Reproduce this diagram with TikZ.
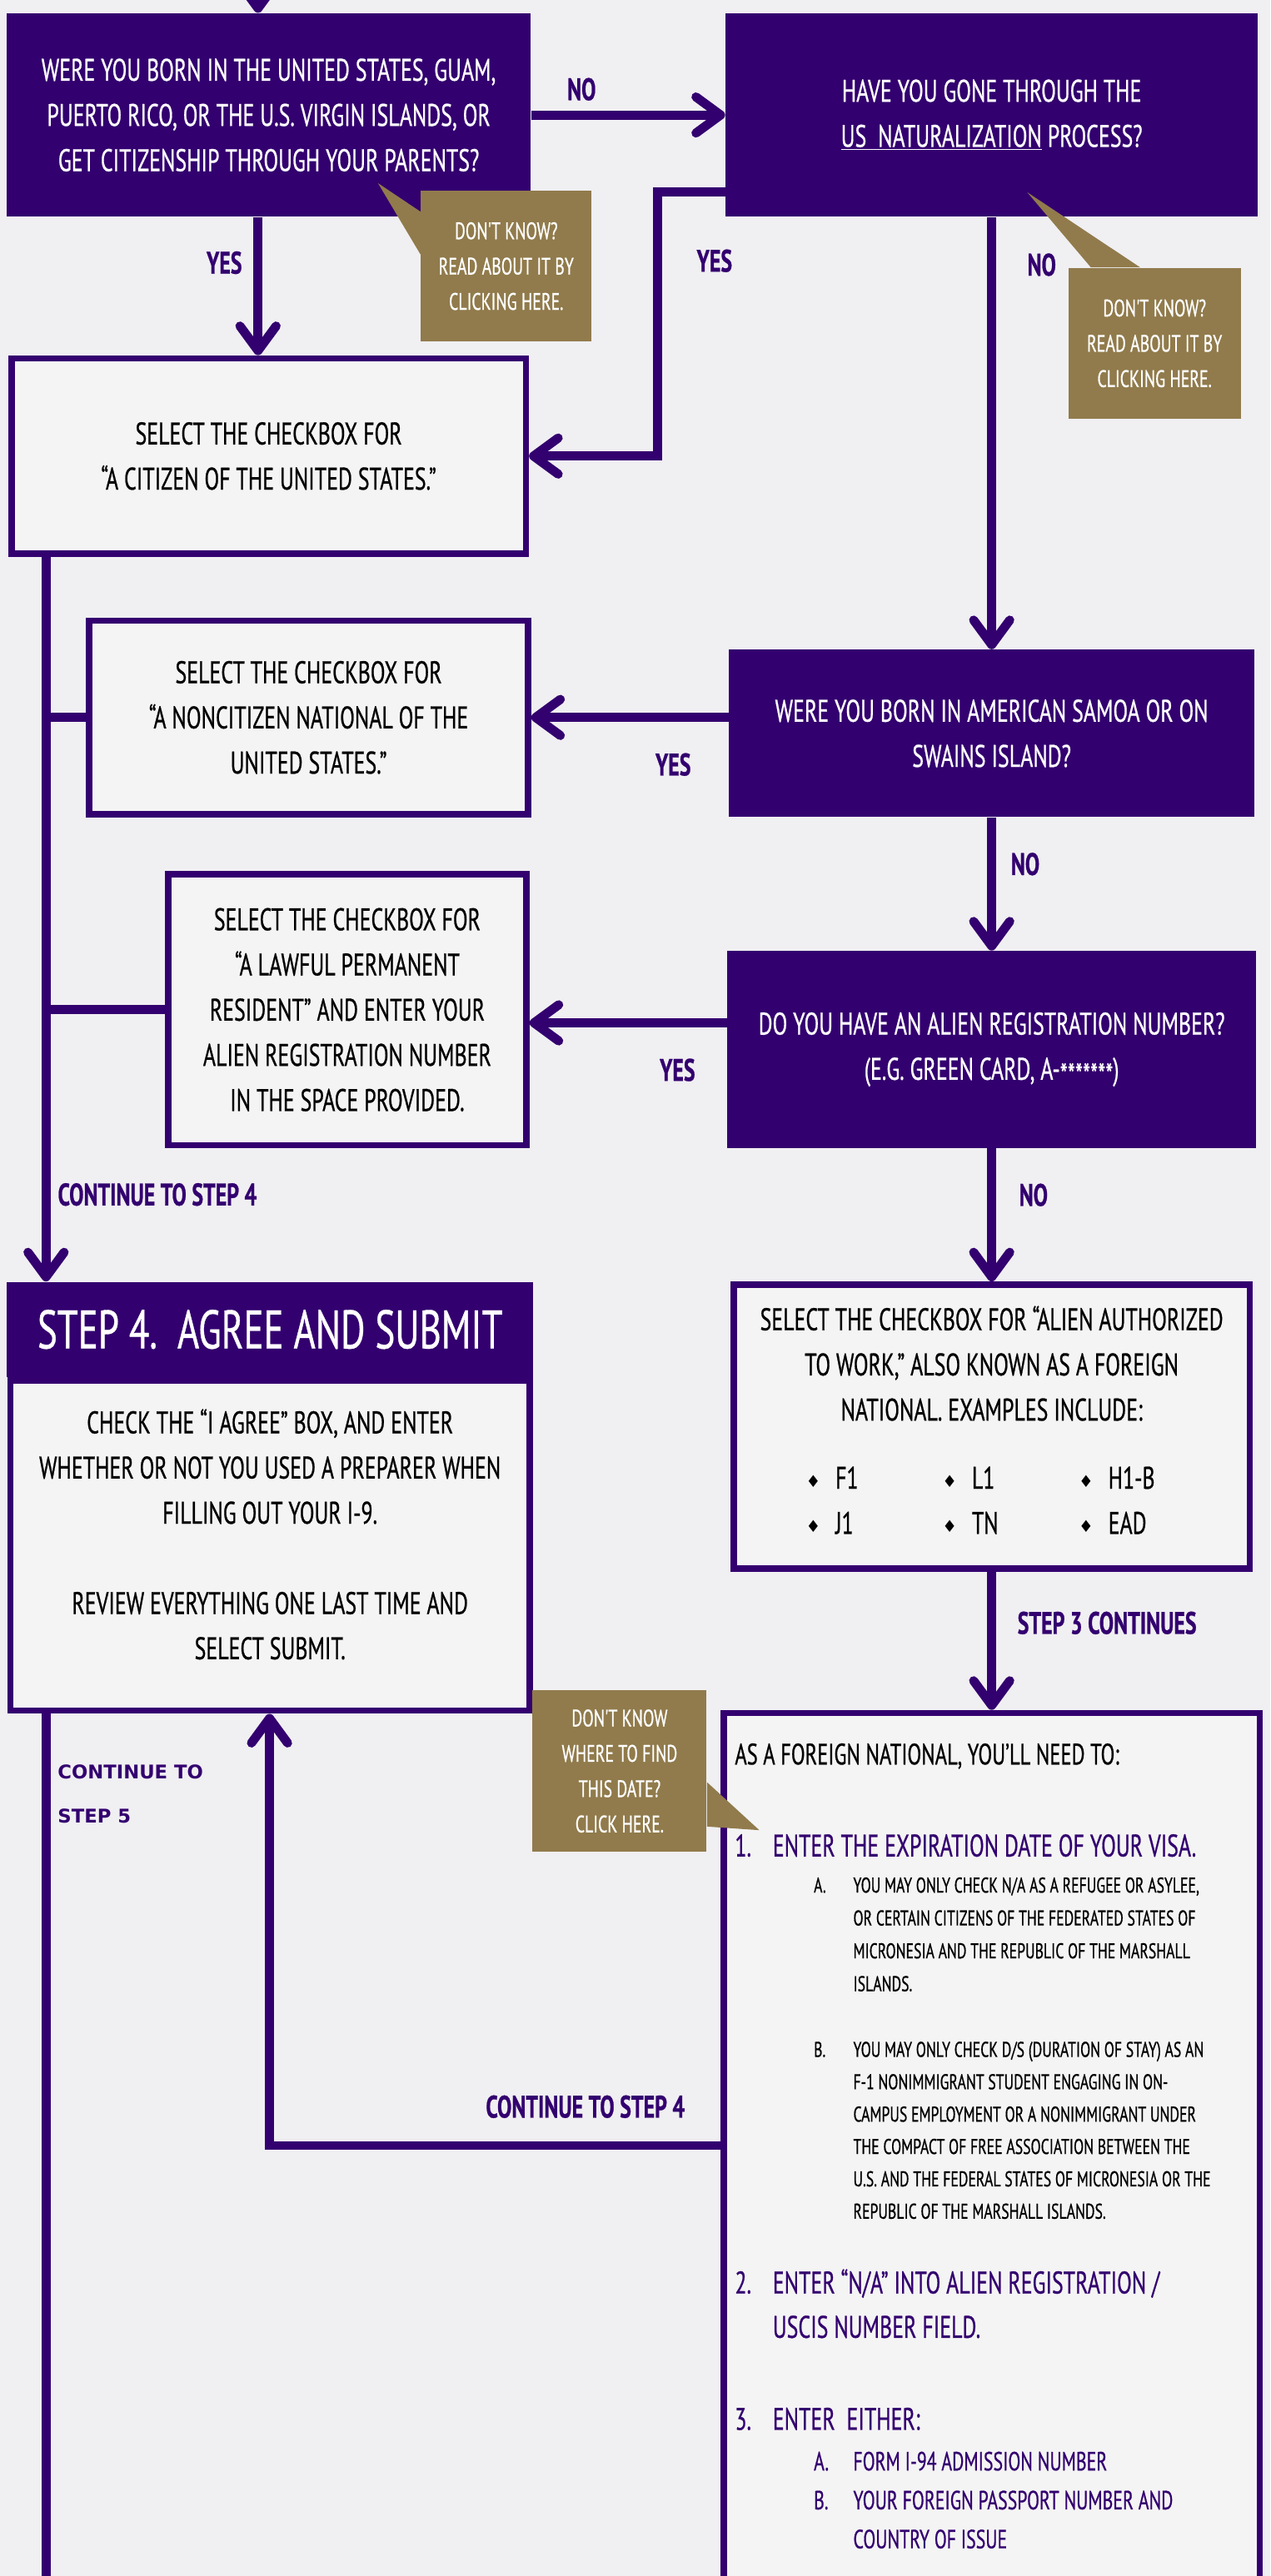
\documentclass[tikz,border=0pt]{standalone}
\usepackage{fontspec}
\usepackage{xcolor}
\usepackage{tikz}
\usetikzlibrary{arrows.meta,positioning}

\newfontfamily\hand[FakeStretch=0.69,FakeBold=0.6]{PT Sans}
\newfontfamily\plainsans{DejaVu Sans}

\definecolor{uwpurple}{HTML}{33006F}
\definecolor{uwgold}{HTML}{917B4C}
\definecolor{boxgray}{HTML}{F4F4F4}
\definecolor{backdrop}{HTML}{F0EFF2}

\newcommand{\dia}{\raisebox{1pt}{\plainsans\fontsize{10}{10}\selectfont ♦}}

\begin{document}
\begin{tikzpicture}[x=1pt, y=-1pt, node distance=84pt, auto,
    qbox/.style={fill=uwpurple, text=white, align=center, inner sep=0pt,
      font=\hand\fontsize{19}{27.5}\selectfont},
    abox/.style={draw=uwpurple, line width=3.8pt, fill=boxgray, align=center,
      inner sep=0pt, font=\hand\fontsize{19}{27.5}\selectfont},
    hint/.style={fill=uwgold, text=white, align=center, inner sep=0pt,
      font=\hand\fontsize{14.5}{21.5}\selectfont},
    lbl/.style={text=uwpurple, inner sep=0pt,
      font=\hand\bfseries\fontsize{19}{27.5}\selectfont},
    wire/.style={draw=uwpurple, line width=5.5pt},
    flow/.style={wire, -{Straight Barb[length=15pt, width=22pt, round]}}]
    \path[use as bounding box] (0,0) rectangle (773,1568);
    \clip (0,0) rectangle (773,1568);
    \fill[backdrop] (0,0) rectangle (773,1568);

    % questions and answers, step 3
    \node[qbox, minimum width=319pt, minimum height=124pt] (born) at (163.5,70)
        {WERE YOU BORN IN THE UNITED STATES, GUAM,\\PUERTO RICO, OR THE U.S. VIRGIN ISLANDS, OR\\GET CITIZENSHIP THROUGH YOUR PARENTS?};
    \node[qbox, minimum width=324pt, minimum height=124pt, right=118pt of born] (natural)
        {HAVE YOU GONE THROUGH THE\\\underline{US\ \ NATURALIZATION} PROCESS?};
    \node[abox, minimum width=313pt, minimum height=119pt, below=84pt of born] (citizen)
        {SELECT THE CHECKBOX FOR\\“A CITIZEN OF THE UNITED STATES.”};
    \node[qbox, minimum width=320pt, minimum height=102pt, below=263pt of natural] (samoa)
        {WERE YOU BORN IN AMERICAN SAMOA OR ON\\SWAINS ISLAND?};
    \node[abox, minimum width=267pt, minimum height=118pt, left=120pt of samoa.south west, anchor=south east] (national)
        {SELECT THE CHECKBOX FOR\\“A NONCITIZEN NATIONAL OF THE\\UNITED STATES.”};
    \node[qbox, minimum width=322pt, minimum height=120pt, below=81pt of samoa] (alien)
        {DO YOU HAVE AN ALIEN REGISTRATION NUMBER?\\(E.G. GREEN CARD, A-\raisebox{-3.5pt}{*******})};
    \node[abox, minimum width=218pt, minimum height=165pt, left=120pt of alien.south west, anchor=south east] (resident)
        {SELECT THE CHECKBOX FOR\\“A LAWFUL PERMANENT\\RESIDENT” AND ENTER YOUR\\ALIEN REGISTRATION NUMBER\\IN THE SPACE PROVIDED.};
    \node[abox, minimum width=314pt, minimum height=173pt, below=81pt of alien] (authorized)
        {SELECT THE CHECKBOX FOR “ALIEN AUTHORIZED\\TO WORK,” ALSO KNOWN AS A FOREIGN\\NATIONAL. EXAMPLES INCLUDE:\\[21pt]
         \begin{tabular}{@{}p{83pt}@{}p{83pt}@{}p{60pt}@{}}
         \dia\hspace{9pt}F1 & \dia\hspace{9pt}L1 & \dia\hspace{9pt}H1-B\\
         \dia\hspace{9pt}J1 & \dia\hspace{9pt}TN & \dia\hspace{9pt}EAD
         \end{tabular}};
    \node[abox, minimum width=326pt, minimum height=560pt, below=84pt of authorized] (foreign) {};

    % step 4
    \node[qbox, minimum width=320pt, minimum height=58pt, left=120pt of authorized.north west, anchor=north east,
        font=\hand\fontsize{33}{40}\selectfont] (stephead) {STEP 4.\ \ AGREE AND SUBMIT};
    \node[abox, minimum width=316pt, minimum height=201pt, text depth=14pt, below=0pt of stephead] (stepbody)
        {CHECK THE “I AGREE” BOX, AND ENTER\\WHETHER OR NOT YOU USED A PREPARER WHEN\\FILLING OUT YOUR I-9.\\[27.5pt]REVIEW EVERYTHING ONE LAST TIME AND\\SELECT SUBMIT.};

    % what a foreign national fills in
    \node[anchor=base west, inner sep=0pt, font=\hand\fontsize{18}{27}\selectfont] (need) at (447,1074)
        {AS A FOREIGN NATIONAL, YOU’LL NEED TO:};
    \node[anchor=base west, inner sep=0pt, text=uwpurple, font=\hand\fontsize{19}{27}\selectfont] (visa) at (447,1130)
        {\begin{tabular}[t]{@{}p{23pt}@{}l@{}}1. & ENTER THE EXPIRATION DATE OF YOUR VISA.\end{tabular}};
    \node[anchor=base west, inner sep=0pt, font=\hand\fontsize{13}{20}\selectfont] (visaa) at (495,1152)
        {\begin{tabular}[t]{@{}p{24pt}@{}l@{}}
         A. & YOU MAY ONLY CHECK N/A AS A REFUGEE OR ASYLEE,\\
            & OR CERTAIN CITIZENS OF THE FEDERATED STATES OF\\
            & MICRONESIA AND THE REPUBLIC OF THE MARSHALL\\
            & ISLANDS.\end{tabular}};
    \node[anchor=base west, inner sep=0pt, font=\hand\fontsize{13}{19.7}\selectfont] (visab) at (495,1252)
        {\begin{tabular}[t]{@{}p{24pt}@{}l@{}}
         B. & YOU MAY ONLY CHECK D/S (DURATION OF STAY) AS AN\\
            & F-1 NONIMMIGRANT STUDENT ENGAGING IN ON-\\
            & CAMPUS EMPLOYMENT OR A NONIMMIGRANT UNDER\\
            & THE COMPACT OF FREE ASSOCIATION BETWEEN THE\\
            & U.S. AND THE FEDERAL STATES OF MICRONESIA OR THE\\
            & REPUBLIC OF THE MARSHALL ISLANDS.\end{tabular}};
    \node[anchor=base west, inner sep=0pt, text=uwpurple, font=\hand\fontsize{19}{27}\selectfont] (uscis) at (447,1396)
        {\begin{tabular}[t]{@{}p{23pt}@{}l@{}}
         2. & ENTER “N/A” INTO ALIEN REGISTRATION /\\
            & USCIS NUMBER FIELD.\end{tabular}};
    \node[anchor=base west, inner sep=0pt, text=uwpurple, font=\hand\fontsize{19}{27}\selectfont] (either) at (447,1479)
        {\begin{tabular}[t]{@{}p{23pt}@{}l@{}}3. & ENTER\ \ EITHER:\end{tabular}};
    \node[anchor=base west, inner sep=0pt, text=uwpurple, font=\hand\fontsize{16}{23.7}\selectfont] (passport) at (495,1503.7)
        {\begin{tabular}[t]{@{}p{24pt}@{}l@{}}
         A. & FORM I-94 ADMISSION NUMBER\\
         B. & YOUR FOREIGN PASSPORT NUMBER AND\\
            & COUNTRY OF ISSUE\end{tabular}};

    % connectors
    \coordinate (entry) at (157,-30);
    \coordinate (trunk) at (28,1600);
    \coordinate (back) at (164,1306);
    \draw[flow] (entry) -- (entry |- born.north);
    \draw[flow] (born) -- (natural) node[lbl, pos=0.26, above=6pt] {NO};
    \draw[flow] (born.south -| entry) -- (citizen.north -| entry) node[lbl, pos=0.33, left=7pt] {YES};
    \draw[flow] ([yshift=-47pt]natural.west) -- ++(-41pt,0) |- (citizen.east)
        node[lbl, pos=0.13, right=21pt] {YES};
    \draw[flow] (natural) -- (samoa) node[lbl, pos=0.11, right=19pt] {NO};
    \draw[flow] (samoa.west |- national.east) -- (national.east) node[lbl, pos=0.28, below=19pt] {YES};
    \draw[flow] (samoa) -- (alien) node[lbl, pos=0.35, right=9pt] {NO};
    \draw[flow] ([yshift=-8pt]alien.west |- resident.east) -- ([yshift=-8pt]resident.east)
        node[lbl, pos=0.25, below=19pt] {YES};
    \draw[flow] (alien) -- (authorized) node[lbl, pos=0.35, right=14pt] {NO};
    \draw[flow] (authorized) -- (foreign) node[lbl, pos=0.37, right=13pt] {STEP 3 CONTINUES};
    \draw[flow] (citizen.south -| trunk) -- (stephead.north -| trunk)
        node[lbl, pos=0.88, right=4.5pt] {CONTINUE TO STEP 4};
    \draw[wire] (national.west) -- (national.west -| trunk);
    \draw[wire] (resident.west) -- (resident.west -| trunk);
    \draw[wire] (stepbody.south -| trunk) -- (trunk);
    \draw[flow] (foreign.west |- back) -| (back |- stepbody.south)
        node[lbl, pos=0.15, above=14pt] {CONTINUE TO STEP 4};
    \node[anchor=north west, inner sep=0pt, align=left, text=uwpurple,
        font=\plainsans\bfseries\fontsize{11.5}{27}\selectfont] (next) at (35,1074) {CONTINUE TO\\STEP 5};

    % don't know? call-outs
    \node[hint, minimum width=104pt, minimum height=92pt] (help1) at (308,162)
        {DON'T KNOW?\\READ ABOUT IT BY\\CLICKING HERE.};
    \coordinate (ask1) at (230,111.5);
    \fill[uwgold] (ask1) -- ([yshift=-13pt]help1.north west) -- ([yshift=-39pt]help1.north west) -- cycle;
    \node[hint, minimum width=105pt, minimum height=92pt] (help2) at (702.5,209)
        {DON'T KNOW?\\READ ABOUT IT BY\\CLICKING HERE.};
    \coordinate (ask2) at (625,117);
    \fill[uwgold] (ask2) -- ([xshift=14pt]help2.north west) -- ([xshift=44pt]help2.north west) -- cycle;
    \node[hint, minimum width=106pt, minimum height=98pt] (help3) at (377,1078)
        {DON'T KNOW\\WHERE TO FIND\\THIS DATE?\\CLICK HERE.};
    \coordinate (ask3) at (462,1114);
    \fill[uwgold] (ask3) -- ([yshift=-56pt]help3.north east) -- ([yshift=-83pt]help3.north east) -- cycle;
\end{tikzpicture}
\end{document}
